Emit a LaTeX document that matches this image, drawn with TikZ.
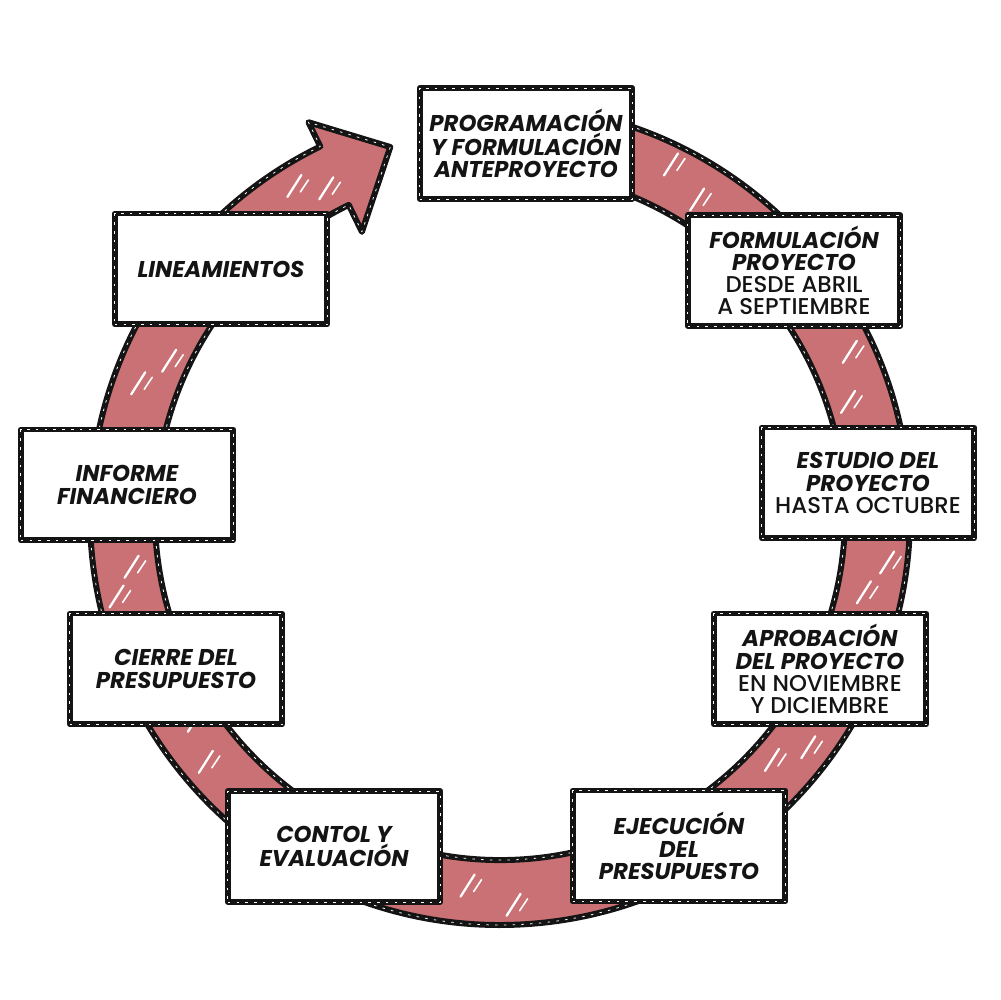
\documentclass[tikz,border=0pt]{standalone}
\usepackage{fontspec}
\setmainfont{Poppins}
\newfontfamily\medfont{Poppins Medium}
\definecolor{ringred}{RGB}{201,113,116}
\definecolor{ink}{RGB}{20,20,20}
\newcommand{\hd}[1]{{\bfseries\itshape #1}}
\newcommand{\sub}[1]{{\medfont #1}}
\tikzset{
  sketch/.style={draw=ink, line width=3.4pt, line join=round,
    postaction={draw=white, line width=0.45pt, dash pattern=on 1.4pt off 3.6pt}},
  stage/.style={sketch, fill=white, minimum width=4.25cm, minimum height=2.22cm,
    align=center, inner sep=0pt, text=ink, font=\fontsize{13}{12.6}\selectfont},
  streak/.style={draw=white, line width=1.3pt, line cap=round}
}
\begin{document}
\begin{tikzpicture}[x=0.02cm,y=0.02cm]
\useasboundingbox (0,0) rectangle (1000,1000);
\fill[white] (0,0) rectangle (1000,1000);
\begin{scope}[shift={(500,485)}]
  \path[sketch, fill=ringred]
    (95:410) arc[start angle=95, end angle=-244, radius=410]
    -- (-244:437) -- (-253.4:384) -- (-244:315) -- (-244:345)
    arc[start angle=-244, end angle=95, radius=345] -- cycle;
  \foreach \a/\r in {118/370,122/388,155/365,160/385,188/372,192/392,214/368,220/384,
                     265/372,272/390,318/366,323/386,348/372,353/390,18/366,25/386,58/372,64/390}{
    \draw[streak] (\a:\r) ++(-7,-11) -- ++(14,22);
    \draw[streak, line width=0.9pt] (\a:\r) ++(6,-6) -- ++(8,12);
  }
\end{scope}
\node[stage] (prog) at (526,856.5) {\hd{PROGRAMACIÓN}\\\hd{Y FORMULACIÓN}\\\hd{ANTEPROYECTO}};
\node[stage] (form) at (794,729.5) {\hd{FORMULACIÓN}\\\hd{PROYECTO}\\\sub{DESDE ABRIL}\\\sub{A SEPTIEMBRE}};
\node[stage] (estu) at (868,517) {\hd{ESTUDIO DEL}\\\hd{PROYECTO}\\\sub{HASTA OCTUBRE}};
\node[stage] (apro) at (820,331) {\hd{APROBACIÓN}\\\hd{DEL PROYECTO}\\\sub{EN NOVIEMBRE}\\\sub{Y DICIEMBRE}};
\node[stage] (ejec) at (679,154) {\hd{EJECUCIÓN}\\\hd{DEL}\\\hd{PRESUPUESTO}};
\node[stage] (cont) at (334,153.5) {\hd{CONTOL Y}\\\hd{EVALUACIÓN}};
\node[stage] (cier) at (176,331) {\hd{CIERRE DEL}\\\hd{PRESUPUESTO}};
\node[stage] (info) at (127,515) {\hd{INFORME}\\\hd{FINANCIERO}};
\node[stage] (line) at (221,731) {\hd{LINEAMIENTOS}};
\end{tikzpicture}
\end{document}
